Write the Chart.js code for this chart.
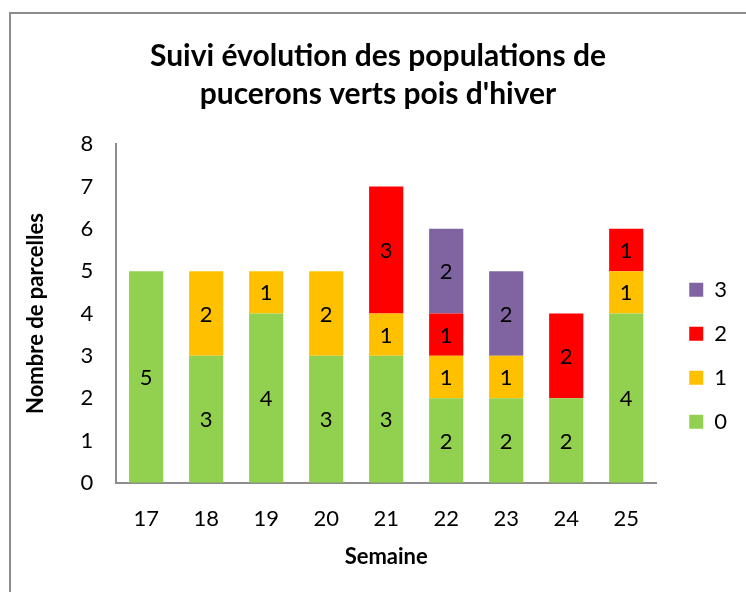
<!DOCTYPE html>
<html>
<head>
<meta charset="utf-8">
<script src="https://cdn.jsdelivr.net/npm/chart.js@4"></script>
<style>
  html, body { margin: 0; padding: 0; background: #fff; overflow: hidden; }
  #wrap { position: relative; width: 746px; height: 592px; }
  #frame { position: absolute; left: 9px; top: 12px; width: 760px; height: 600px; border: 2px solid #8c8c8c; box-sizing: border-box; }
  canvas { position: absolute; left: 0; top: 0; }
</style>
</head>
<body>
<div id="wrap">
  <div id="frame"></div>
  <canvas id="myChart" width="746" height="592"></canvas>
</div>
<script>
// weeks and number of plots per infestation class
var semaines = ['17', '18', '19', '20', '21', '22', '23', '24', '25'];
var classe0 = [5, 3, 4, 3, 3, 2, 2, 2, 4];
var classe1 = [0, 2, 1, 2, 1, 1, 1, 0, 1];
var classe2 = [0, 0, 0, 0, 3, 1, 0, 2, 1];
var classe3 = [0, 0, 0, 0, 0, 2, 2, 0, 0];

var FONT = 'Lato, "Liberation Sans", sans-serif';

// write the value in the middle of each segment
var valueLabels = {
    id: 'valueLabels',
    afterDatasetsDraw: function(chart) {
        var ctx = chart.ctx;
        ctx.save();
        ctx.font = '22px ' + FONT;
        ctx.fillStyle = '#000';
        ctx.textAlign = 'center';
        ctx.textBaseline = 'middle';
        chart.data.datasets.forEach(function(ds, i) {
            var meta = chart.getDatasetMeta(i);
            meta.data.forEach(function(bar, j) {
                var v = ds.data[j];
                if (!v) return;
                ctx.fillText(String(v), bar.x, (bar.y + bar.base) / 2 + 1);
            });
        });
        ctx.restore();
    }
};

var ctx = document.getElementById('myChart');
var myChart = new Chart(ctx, {
    type: 'bar',
    data: {
        labels: semaines,
        datasets: [
            { label: '0', data: classe0, backgroundColor: '#92D050' },
            { label: '1', data: classe1, backgroundColor: '#FFC000' },
            { label: '2', data: classe2, backgroundColor: '#FF0000' },
            { label: '3', data: classe3, backgroundColor: '#8064A2' }
        ]
    },
    options: {
        responsive: false,
        animation: false,
        layout: { padding: { left: 19, right: 9, top: 24, bottom: 25 } },
        datasets: {
            bar: { barPercentage: 0.57, categoryPercentage: 1, borderWidth: 0 }
        },
        scales: {
            x: {
                stacked: true,
                grid: { display: false },
                border: { color: '#8c8c8c', width: 2 },
                ticks: { color: '#000', font: { size: 22, family: FONT }, padding: 15 },
                title: { display: true, text: 'Semaine', color: '#000', font: { size: 22, weight: 'bold', family: FONT, lineHeight: 0.9 }, padding: 0 }
            },
            y: {
                stacked: true,
                min: 0, max: 8,
                grid: { display: false },
                border: { color: '#8c8c8c', width: 2 },
                ticks: { stepSize: 1, color: '#000', font: { size: 22, family: FONT }, padding: 15 },
                title: { display: true, text: 'Nombre de parcelles', color: '#000', font: { size: 22, weight: 'bold', family: FONT }, padding: { bottom: 16 } }
            },
            // empty axis on the right, only keeps a gap before the legend
            gap: {
                type: 'linear',
                position: 'right',
                display: true,
                grid: { display: false },
                border: { display: false },
                ticks: { display: false },
                afterFit: function(scale) { scale.width = 11; }
            }
        },
        plugins: {
            title: {
                display: true,
                text: ['Suivi évolution des populations de', "pucerons verts pois d'hiver"],
                color: '#000',
                font: { size: 30, weight: 'bold', family: FONT, lineHeight: 1.27 },
                padding: { top: 13, bottom: 31 }
            },
            legend: {
                position: 'right',
                reverse: true,
                title: { display: true, text: ' ', padding: { top: 106, bottom: 0 } },
                labels: { color: '#000', font: { size: 22, family: FONT }, boxWidth: 14, boxHeight: 14, padding: 22 }
            },
            tooltip: { enabled: false }
        }
    },
    plugins: [valueLabels]
});
</script>
</body>
</html>
